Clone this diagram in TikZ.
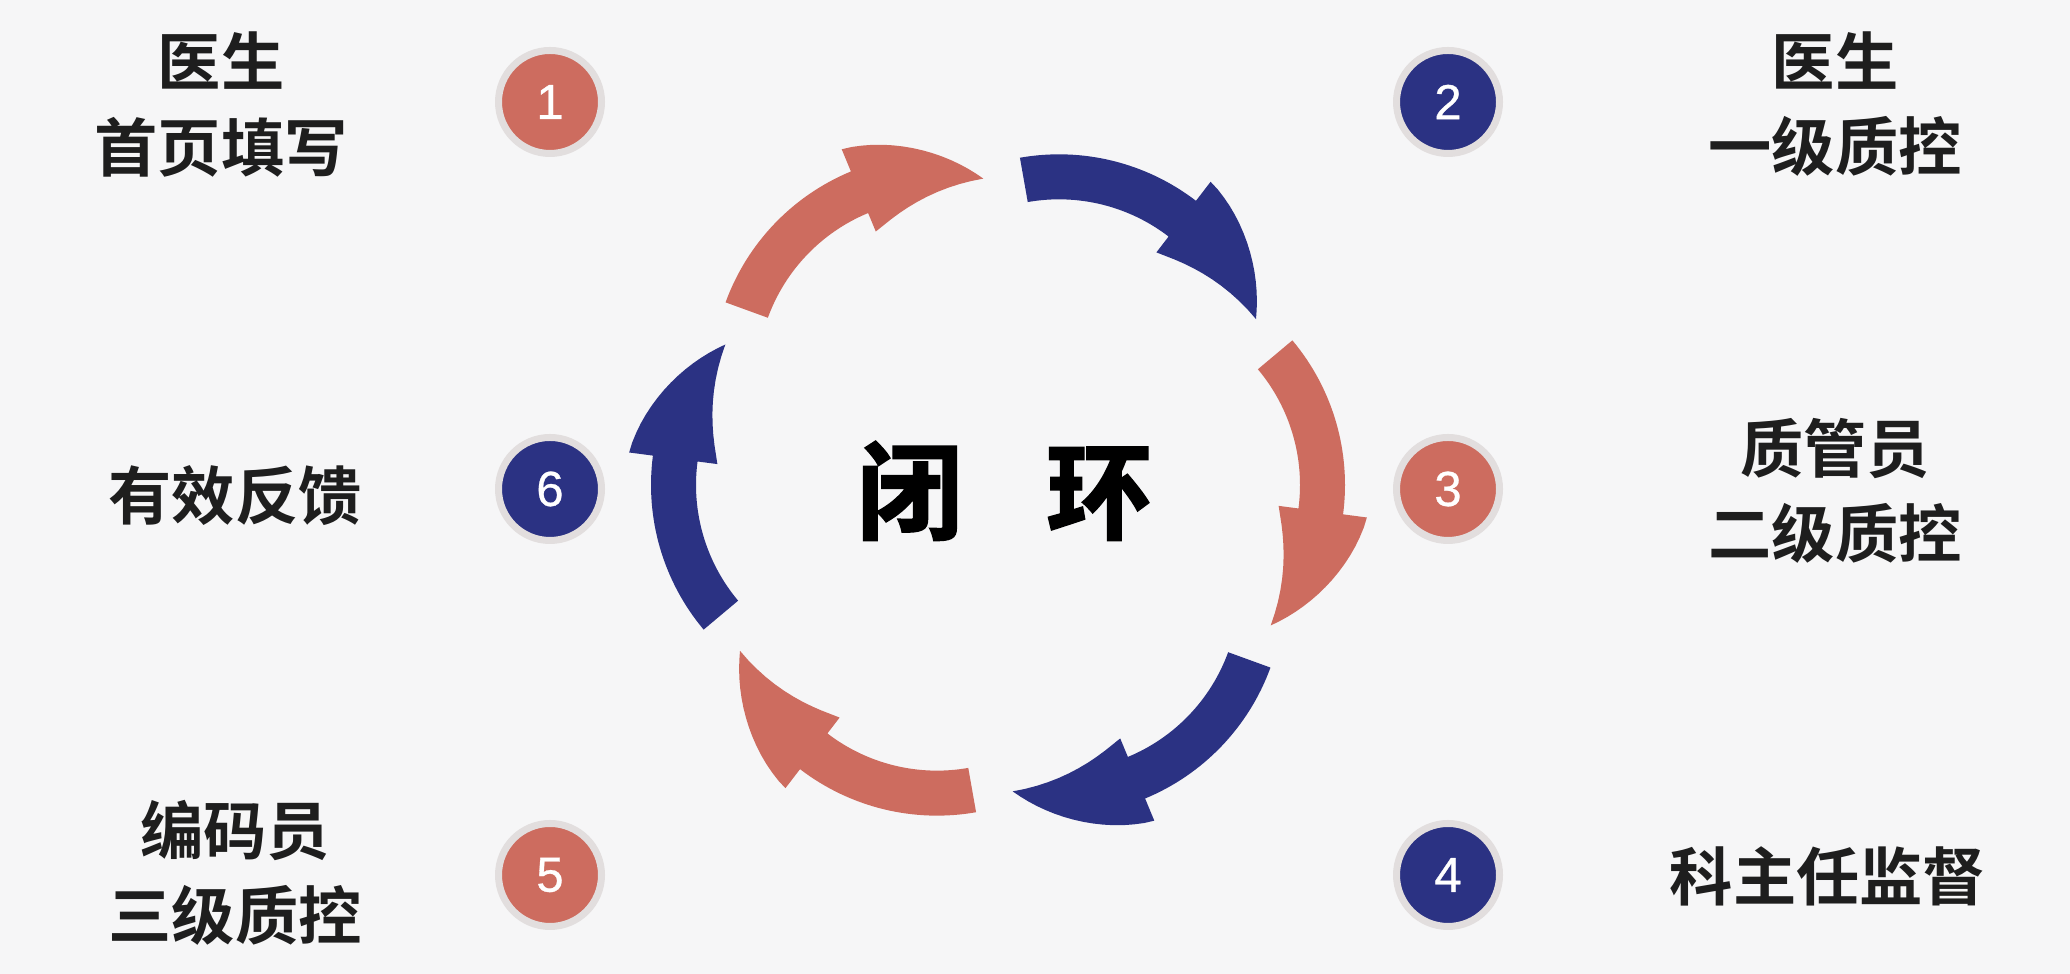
\documentclass[tikz,border=0pt]{standalone}
\usepackage{fontspec}
\setmainfont{Liberation Sans}
\newfontfamily\cjkb{Noto Sans CJK SC Bold}
\newfontfamily\cjkbb{Noto Sans CJK SC Bold}[FakeBold=2.2]
\newfontfamily\numf{Liberation Sans}[FakeBold=0.6]
\definecolor{bgc}{HTML}{F6F6F7}
\definecolor{salmon}{HTML}{CD6C5F}
\definecolor{navy}{HTML}{2B3283}
\definecolor{halo}{HTML}{E2DEDE}
\definecolor{txt}{HTML}{1E1E1E}
\tikzset{
  lbl/.style={font=\cjkb\fontsize{18}{24.2}\selectfont, text=txt, align=center, inner sep=0pt},
  numc/.style={circle, minimum size=1.03cm, inner sep=0pt, draw=halo, line width=0.07cm, text=white, font=\numf\fontsize{14}{16}\selectfont},
}
\newcommand{\ringarrow}[2]{% #1 middle angle, #2 colour
  \begin{scope}[shift={(#1:1.22)}]
  \pgfmathsetmacro{\angA}{#1+40}
  \pgfmathsetmacro{\angB}{#1-7.5}
  \pgfmathsetmacro{\angT}{#1-43}
  \fill[#2] (\angA:2.25) arc[start angle=\angA, end angle=\angB, radius=2.25]
    -- (\angB:2.49)
    -- plot[domain=1:0, samples=16] ({\angT+\x*35.5}:{2.06+0.43*(1-max(1-\x,0.0001)^1.25)})
    -- plot[domain=0:1, samples=12] ({\angT+\x*35.5}:{2.06-0.46*(1-max(1-\x,0.0001)^1.15)})
    -- (\angB:1.80)
    arc[start angle=\angB, end angle=\angA, radius=1.80] -- cycle;
  \end{scope}
}
\begin{document}
\begin{tikzpicture}
\useasboundingbox (0,0) rectangle (20.70,9.74);
\fill[bgc] (0,0) rectangle (20.70,9.74);
\begin{scope}[shift={(9.98,4.89)}]
  \ringarrow{120}{salmon}
  \ringarrow{60}{navy}
  \ringarrow{0}{salmon}
  \ringarrow{-60}{navy}
  \ringarrow{-120}{salmon}
  \ringarrow{180}{navy}
\end{scope}
\node[font=\cjkbb\fontsize{30}{36}\selectfont, text=black, inner sep=0pt] (c) at (10.045,4.83) {闭\hspace{0.84cm}环};
\node[numc, fill=salmon] (n1) at (5.50,8.72) {1};
\node[numc, fill=navy] (n2) at (14.48,8.72) {2};
\node[numc, fill=salmon] (n3) at (14.48,4.85) {3};
\node[numc, fill=navy] (n4) at (14.48,0.99) {4};
\node[numc, fill=salmon] (n5) at (5.50,0.99) {5};
\node[numc, fill=navy] (n6) at (5.50,4.85) {6};
\node[lbl] (l1) at (2.21,8.695) {医生\\首页填写};
\node[lbl] (l2) at (18.35,8.695) {医生\\一级质控};
\node[lbl] (l3) at (18.35,4.835) {质管员\\二级质控};
\node[lbl] (l4) at (18.28,0.98) {科主任监督};
\node[lbl] (l5) at (2.35,1.015) {编码员\\三级质控};
\node[lbl] (l6) at (2.35,4.78) {有效反馈};
\end{tikzpicture}
\end{document}
